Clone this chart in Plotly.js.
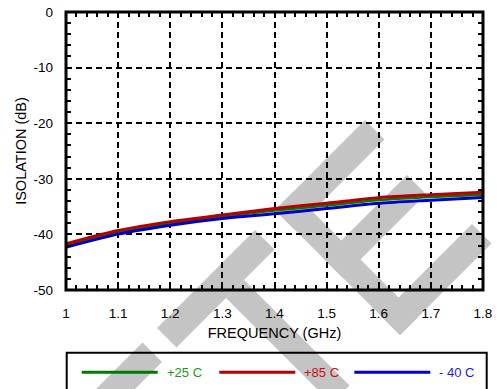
<!DOCTYPE html>
<html>
<head>
<meta charset="utf-8">
<script src="https://cdn.plot.ly/plotly-3.0.1.min.js"></script>
<style>
  html, body { margin: 0; padding: 0; background: #ffffff; }
  #wrap { position: relative; width: 497px; height: 389px; overflow: hidden; }
  #wm { position: absolute; left: 0; top: 0; z-index: 0; }
  #chart { position: absolute; left: 0; top: 0; width: 497px; height: 389px; z-index: 1; }
</style>
</head>
<body>
<div id="wrap">
  <svg id="wm" width="497" height="389"></svg>
  <div id="chart"></div>
</div>
<script>
// ---- data ----
const frequency = [1.0, 1.1, 1.2, 1.3, 1.4, 1.5, 1.6, 1.7, 1.8];
const iso25  = [-41.9, -39.6, -38.0, -36.8, -35.7, -34.8, -33.8, -33.25, -32.85];
const iso85  = [-41.7, -39.3, -37.7, -36.5, -35.35, -34.4, -33.4, -32.85, -32.4];
const isoM40 = [-42.3, -39.95, -38.35, -37.15, -36.3, -35.35, -34.4, -33.85, -33.35];
const seriesNames  = ['+25 C', '+85 C', '- 40 C'];
const lineColors   = ['#007a00', '#b80000', '#0000c8'];
const textColors   = ['#1a9a1a', '#c81010', '#1a1ae0'];
const xTickVals = [1, 1.1, 1.2, 1.3, 1.4, 1.5, 1.6, 1.7, 1.8];
const xTickText = ['1', '1.1', '1.2', '1.3', '1.4', '1.5', '1.6', '1.7', '1.8'];
const yTickVals = [0, -10, -20, -30, -40, -50];
const yTickText = ['0', '-10', '-20', '-30', '-40', '-50'];

// ---- background watermark (decoration), in rotated u=x+y, v=x-y pixel space ----
const wmRects = [
  [485, 524, -171, 25],   // T bar
  [524, 735, -72, -36],   // T stem
  [485, 735, 65, 101],    // E spine
  [485, 524, 65, 245],    // E top arm
  [582, 620, 65, 232],    // E middle arm
  [696, 735, 65, 248],    // E lower arm
  [485, 524, -450, -200]  // previous letter top
];
(function drawWatermark() {
  const svg = document.getElementById('wm');
  const ns = 'http://www.w3.org/2000/svg';
  wmRects.forEach(r => {
    const [u0, u1, v0, v1] = r;
    const pts = [[u0, v0], [u0, v1], [u1, v1], [u1, v0]]
      .map(([u, v]) => ((u + v) / 2).toFixed(1) + ',' + ((u - v) / 2).toFixed(1)).join(' ');
    const p = document.createElementNS(ns, 'polygon');
    p.setAttribute('points', pts);
    p.setAttribute('fill', '#c4c4c4');
    svg.appendChild(p);
  });
})();

// ---- layout geometry ----
const W = 497, H = 389;
const M = { l: 66, r: 14, t: 12, b: 99 };
const PW = W - M.l - M.r, PH = H - M.t - M.b;
const px2x = px => (px - M.l) / PW;
const py2y = py => (M.t + PH - py) / PH;

const FONT = 'Liberation Sans, Arial, Helvetica, sans-serif';

const traces = [
  { x: frequency, y: iso25,  name: seriesNames[0], color: lineColors[0], width: 2.6 },
  { x: frequency, y: isoM40, name: seriesNames[2], color: lineColors[2], width: 3 },
  { x: frequency, y: iso85,  name: seriesNames[1], color: lineColors[1], width: 3 }
].map(s => ({
  type: 'scatter', mode: 'lines', x: s.x, y: s.y, name: s.name,
  line: { color: s.color, width: s.width, shape: 'spline', smoothing: 0.8 },
  showlegend: false, hoverinfo: 'skip'
}));

// custom legend built from the series arrays
const shapes = [
  // plot frame
  { type: 'rect', xref: 'paper', yref: 'paper', x0: 0, x1: 1, y0: 0, y1: 1,
    line: { color: '#000', width: 3 }, layer: 'above' },
  // legend box
  { type: 'rect', xref: 'paper', yref: 'paper',
    x0: px2x(66.7), x1: px2x(486.7), y0: py2y(420), y1: py2y(352.7),
    line: { color: '#000', width: 2 }, fillcolor: 'rgba(0,0,0,0)', layer: 'above' }
];
const annotations = [];
const legY = 372.3;
const legStart = [81.7, 219.3, 354.3];
const legLineLen = 76;
seriesNames.forEach((name, i) => {
  shapes.push({ type: 'line', xref: 'paper', yref: 'paper',
    x0: px2x(legStart[i]), x1: px2x(legStart[i] + legLineLen),
    y0: py2y(legY), y1: py2y(legY),
    line: { color: lineColors[i], width: 3 }, layer: 'above' });
  annotations.push({ xref: 'paper', yref: 'paper', x: px2x(legStart[i] + legLineLen + 7),
    y: py2y(legY), xanchor: 'left', yanchor: 'middle', showarrow: false,
    text: name, font: { family: FONT, size: 13, color: textColors[i] } });
});

const axisCommon = {
  showline: false, zeroline: false,
  showgrid: true, gridcolor: '#000', gridwidth: 2, griddash: '6px,4px',
  ticks: 'inside', ticklen: 5, tickwidth: 2, tickcolor: '#000', mirror: 'allticks',
  tickfont: { family: FONT, size: 13.5, color: '#000' }
};

const layout = {
  width: W, height: H,
  margin: M,
  paper_bgcolor: 'rgba(0,0,0,0)', plot_bgcolor: 'rgba(0,0,0,0)',
  showlegend: false,
  xaxis: Object.assign({}, axisCommon, {
    range: [1, 1.8], tickmode: 'array', tickvals: xTickVals, ticktext: xTickText,
    ticklabelstandoff: 13,
    minor: { dtick: 0.02, ticks: 'inside', ticklen: 5, tickwidth: 2, tickcolor: '#000', showgrid: false },
    title: { text: 'FREQUENCY (GHz)', font: { family: FONT, size: 14.5, color: '#000' }, standoff: 8 }
  }),
  yaxis: Object.assign({}, axisCommon, {
    range: [-50, 0], tickmode: 'array', tickvals: yTickVals, ticktext: yTickText,
    ticklabelstandoff: 12,
    minor: { dtick: 2, ticks: 'inside', ticklen: 5, tickwidth: 2, tickcolor: '#000', showgrid: false },
    title: { text: 'ISOLATION (dB)', font: { family: FONT, size: 14.5, color: '#000' }, standoff: 3 }
  }),
  shapes: shapes,
  annotations: annotations
};

Plotly.newPlot('chart', traces, layout, { staticPlot: true, displayModeBar: false });
</script>
</body>
</html>
